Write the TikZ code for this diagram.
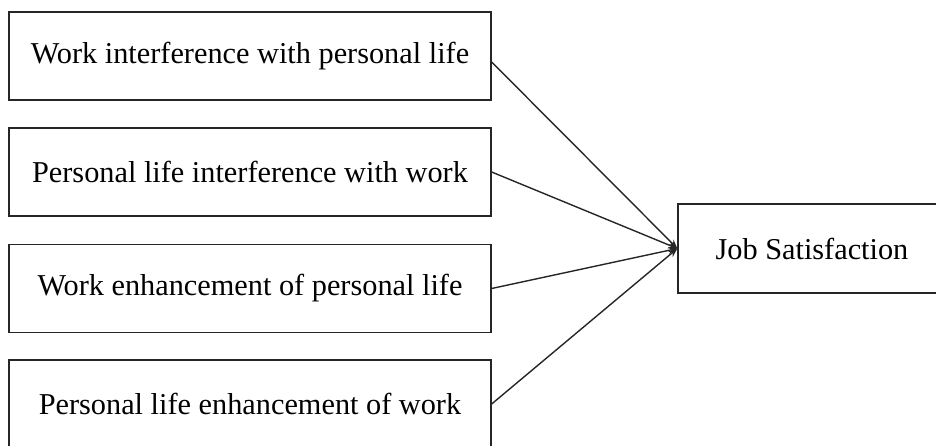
\documentclass[tikz,border=0pt]{standalone}
\usepackage{fontspec}
\setmainfont{Liberation Serif}
\usetikzlibrary{arrows.meta}
\begin{document}
\begin{tikzpicture}[x=1pt,y=-1pt,
  lbox/.style={draw=black!85, line width=1.3pt, minimum width=482pt, minimum height=88pt, inner sep=0pt,
    font=\fontsize{30.3}{36}\selectfont},
  rbox/.style={draw=black!85, line width=1.3pt, minimum width=268pt, minimum height=89pt, inner sep=0pt,
    font=\fontsize{30.3}{36}\selectfont},
  conn/.style={line width=1.4pt, black!85, -{Stealth[length=9pt,width=7pt]}}]
\useasboundingbox (0,0) rectangle (936,446);
\clip (0,0) rectangle (936,446);
\node[lbox] (b1) at (250,56) {Work interference with personal life};
\node[lbox] (b2) at (250,172) {Personal life interference with work};
\node[lbox] (b3) at (250,288.5) {Work enhancement of personal life};
\node[lbox] (b4) at (250,404) {Personal life enhancement of work};
\node[rbox] (js) at (812,248.5) {Job Satisfaction};
\draw[conn] ([yshift=-6pt]b1.east) -- (js.west);
\draw[conn] (b2.east) -- (js.west);
\draw[conn] (b3.east) -- (js.west);
\draw[conn] (b4.east) -- (js.west);
\end{tikzpicture}
\end{document}
